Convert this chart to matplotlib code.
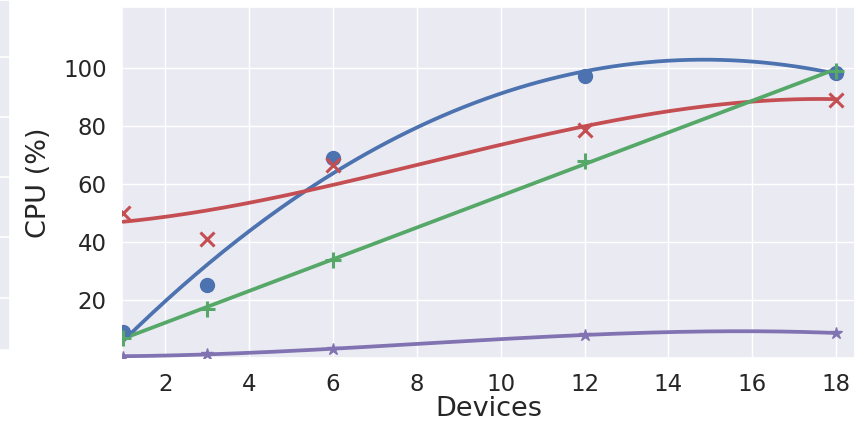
import numpy as np
import matplotlib
matplotlib.use("Agg")
import matplotlib.pyplot as plt
import seaborn as sns

sns.set_theme(style="darkgrid")
plt.rcParams['font.family'] = ['DejaVu Sans']

# measured points per series (devices -> CPU %)
devices = [1, 3, 6, 12, 18]
cpu_blue = [9, 25, 69, 97.2, 98.3]
cpu_red = [50, 41, 66.5, 78.6, 89]
cpu_green = [7, 17, 33.8, 68, 99]
cpu_purple = [0.5, 1.5, 3, 8, 8.6]

# red trend line (it does not follow its markers)
red_trend_x = [1, 4, 6, 10, 12, 14, 16, 18]
red_trend_y = [47, 53.4, 59.7, 73.5, 80, 85, 88.3, 89.3]

series = [
    (devices, cpu_blue, cpu_blue, "#4C72B0", "o", 10, 3),
    (red_trend_x, red_trend_y, cpu_red, "#C44E52", "x", 10, 3),
    (devices, cpu_green, cpu_green, "#55A868", "+", 11, 1),
    (devices, cpu_purple, cpu_purple, "#8172B2", "*", 9, 3),
]

fig = plt.figure(figsize=(8.59, 4.30), dpi=100)

# neighbouring panel, only its right edge is visible
ax0 = fig.add_axes([-0.3, (430 - 350) / 430, 0.3 + 10 / 859, 350 / 430])
ax0.set_xlim(0, 1)
ax0.set_ylim(0, 350)
ax0.set_yticks([52, 113, 173, 233, 293])
ax0.set_xticks([])
ax0.tick_params(labelleft=False, left=False)
ax0.grid(True, color="white", linewidth=1.2)

ax = fig.add_axes([122 / 859, (430 - 358) / 430, 733 / 859, 351 / 430])

xs = np.linspace(min(devices), max(devices), 200)
for fx, fy, vals, color, marker, ms, deg in series:
    coef = np.polyfit(fx, fy, deg)
    ax.plot(xs, np.polyval(coef, xs), color=color, linewidth=2.7, zorder=3)
    ax.plot(devices, vals, linestyle="none", marker=marker, color=color,
            markersize=ms, markeredgewidth=2.2 if marker in "x+" else 1,
            zorder=4)

ax.set_xlim(0.97, 18.45)
ax.set_ylim(0, 121)
ax.set_xticks(range(2, 19, 2))
ax.set_yticks([20, 40, 60, 80, 100])
ax.tick_params(labelsize=16.5, pad=5)
ax.set_xlabel("Devices", fontsize=19.5, labelpad=0)
ax.set_ylabel("CPU (%)", fontsize=19.5, labelpad=8)

fig.savefig("out.png", dpi=100)
